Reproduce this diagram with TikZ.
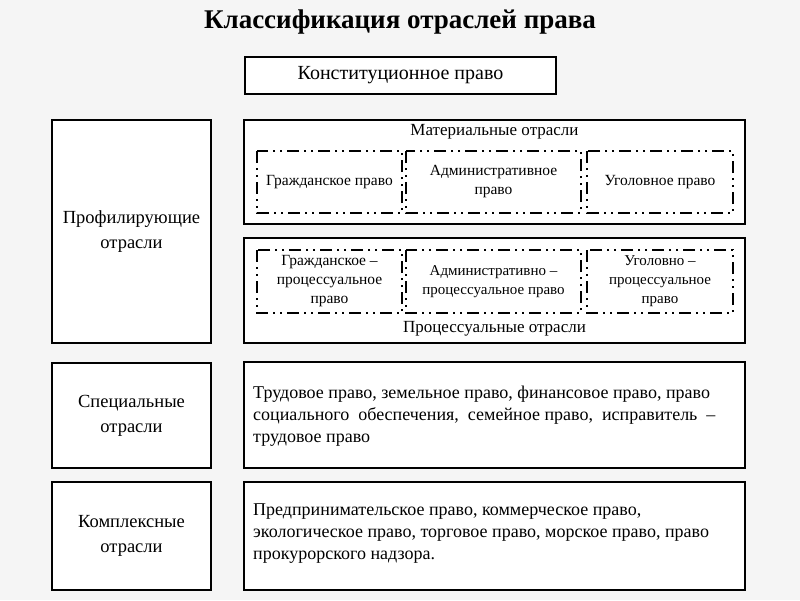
\documentclass[tikz,border=0pt]{standalone}
\usepackage{fontspec}
\setmainfont{Liberation Serif}
\begin{document}
\begin{tikzpicture}[x=1pt,y=-1pt,
 box/.style={draw=black,line width=1.8pt,fill=white},
 dd/.style={draw=black,line width=2.4pt,dash pattern=on 12pt off 5pt on 2pt off 5pt on 2pt off 5pt},
 lbl/.style={font=\fontsize{17}{21}\selectfont,align=center},
 sm/.style={font=\fontsize{15.5}{19}\selectfont,align=center},
 sm2/.style={font=\fontsize{15}{19}\selectfont,align=center},
 par/.style={font=\fontsize{18}{22}\selectfont,align=left,anchor=north west,inner sep=0pt}]
\fill[white!96!black] (0,0) rectangle (800,600);
\useasboundingbox (0,0) rectangle (800,600);
\node[font=\bfseries\fontsize{27}{30}\selectfont] (title) at (400,22) {Классификация отраслей права};
\draw[box] (245,57) rectangle (556,94);
\node[font=\fontsize{20}{24}\selectfont] (konst) at (400.5,75.5) {Конституционное право};
\draw[box] (52,120) rectangle (211,343);
\node[lbl,font=\fontsize{18.5}{25}\selectfont] (prof) at (131.5,231.5) {Профилирующие\\отрасли};
\draw[box] (52,363) rectangle (211,468);
\node[lbl,font=\fontsize{18.5}{25}\selectfont] (spec) at (131.5,415.5) {Специальные\\отрасли};
\draw[box] (52,482) rectangle (211,590);
\node[lbl,font=\fontsize{18.5}{25}\selectfont] (kompl) at (131.5,536) {Комплексные\\отрасли};
\draw[box] (244,120) rectangle (745,224);
\node[lbl] (mat) at (494.5,132) {Материальные отрасли};
\draw[box] (244,238) rectangle (745,343);
\node[lbl] (proc) at (494.5,329) {Процессуальные отрасли};
\draw[dd] (257,151) rectangle (402,213);
\draw[dd] (406,151) rectangle (581,213);
\draw[dd] (587,151) rectangle (733,213);
\draw[dd] (257,250) rectangle (402,313);
\draw[dd] (406,250) rectangle (581,313);
\draw[dd] (587,250) rectangle (733,313);
\node[sm] (g1) at (329.5,182) {Гражданское право};
\node[sm] (a1) at (493.5,182) {Административное\\право};
\node[sm] (u1) at (660,182) {Уголовное право};
\node[sm] (g2) at (329.5,281.5) {Гражданское –\\процессуальное\\право};
\node[sm2] (a2) at (493.5,281.5) {Административно –\\процессуальное право};
\node[sm2] (u2) at (660,281.5) {Уголовно –\\процессуальное\\право};
\draw[box] (244,362) rectangle (745,468);
\node[par] (t1) at (253,386) {Трудовое право, земельное право, финансовое право, право\\социального\ \ обеспечения,\ \ семейное право,\ \ исправитель\ \ –\\трудовое право};
\draw[box] (244,482) rectangle (745,590);
\node[par] (t2) at (253,504) {Предпринимательское право, коммерческое право,\\экологическое право, торговое право, морское право, право\\прокурорского надзора.};
\end{tikzpicture}
\end{document}
